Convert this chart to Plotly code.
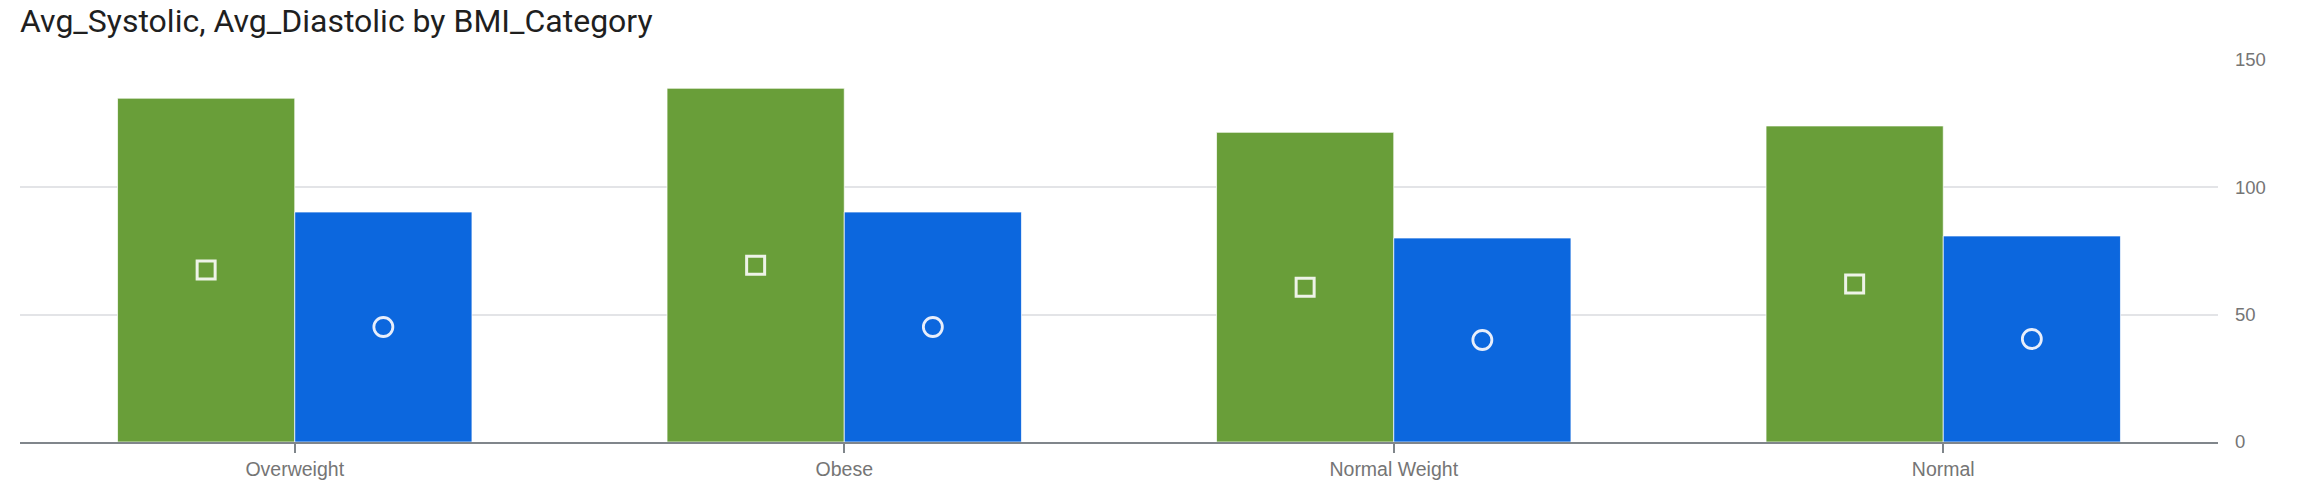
import numpy as np
import plotly.graph_objects as go

categories = ["Overweight", "Obese", "Normal Weight", "Normal"]
avg_systolic = [135.0, 138.9, 121.6, 124.1]
avg_diastolic = [90.3, 90.3, 80.1, 80.9]
y_ticks = [0, 50, 100, 150]

idx = np.arange(len(categories))
w = 0.3225
green = "#699e39"
blue = "#0c67de"

W, H = 2318, 482

fig = go.Figure()
fig.add_trace(go.Bar(x=idx - w / 2, y=avg_systolic, width=w, name="Avg_Systolic",
                     marker=dict(color=green, line=dict(color="rgba(255,255,255,0.7)", width=1))))
fig.add_trace(go.Bar(x=idx + w / 2, y=avg_diastolic, width=w, name="Avg_Diastolic",
                     marker=dict(color=blue, line=dict(color="rgba(255,255,255,0.7)", width=1))))
fig.add_trace(go.Scatter(x=idx - w / 2, y=np.array(avg_systolic) / 2, mode="markers",
                         marker=dict(symbol="square-open", size=18, color="#eef3e8",
                                     line=dict(width=3, color="#eef3e8")),
                         hoverinfo="skip"))
fig.add_trace(go.Scatter(x=idx + w / 2, y=np.array(avg_diastolic) / 2, mode="markers",
                         marker=dict(symbol="circle-open", size=19, color="#e8eefb",
                                     line=dict(width=2.8, color="#e8eefb")),
                         hoverinfo="skip"))

fig.update_layout(
    width=W, height=H,
    margin=dict(l=20, r=100, t=60, b=39.5),
    paper_bgcolor="white", plot_bgcolor="white",
    showlegend=False,
    barmode="overlay",
    title=dict(text="Avg_Systolic, Avg_Diastolic by BMI_Category",
               x=0, xanchor="left", xref="paper",
               y=1 - 10 / H, yanchor="top", yref="container", pad=dict(t=0, b=0),
               font=dict(family="Roboto", size=32, color="#1f1f1f")),
)
fig.update_xaxes(range=[-0.5, len(categories) - 0.5], tickvals=idx, ticktext=categories,
                 showgrid=False, zeroline=False, automargin=False,
                 showline=True, linecolor="#80868b", linewidth=1.5,
                 ticks="outside", ticklen=9, tickwidth=1.5, tickcolor="#80868b",
                 tickfont=dict(family="Arial", size=19.5, color="#757575"))
fig.update_yaxes(range=[0, 150], tickvals=y_ticks, side="right",
                 showgrid=True, gridcolor="#e3e4e7", gridwidth=1.5,
                 zeroline=False, showline=False, ticks="", automargin=False,
                 ticklabelstandoff=16,
                 tickfont=dict(family="Arial", size=18.5, color="#757575"))

fig.write_html("out.html", config={"displayModeBar": False},
               post_script="document.body.style.margin='0';")
